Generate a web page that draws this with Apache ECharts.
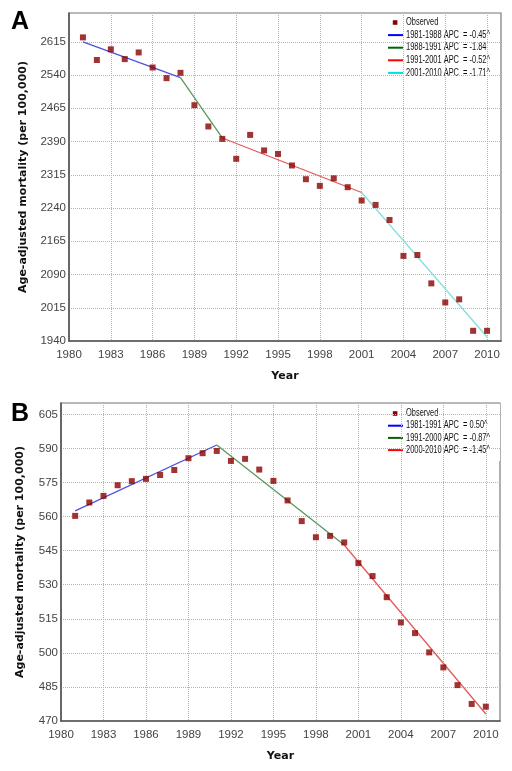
<!DOCTYPE html>
<html><head><meta charset="utf-8">
<script src="https://cdn.jsdelivr.net/npm/echarts@6/dist/echarts.min.js"></script>
<style>html,body{margin:0;padding:0;background:#fff}#c{width:512px;height:771px}</style>
</head><body><div id="c"></div>
<script>
// ---- data ----
const years = [1981,1982,1983,1984,1985,1986,1987,1988,1989,1990,1991,1992,1993,1994,1995,1996,1997,1998,1999,2000,2001,2002,2003,2004,2005,2006,2007,2008,2009,2010];
const observedA = [2625,2574,2598,2576,2591,2557,2533,2545,2472,2424,2396,2351,2405,2370,2362,2336,2305,2290,2307,2287,2257,2247,2213,2132,2134,2070,2027,2034,1963,1963];
const observedB = [560.3,566.2,569.1,573.8,575.6,576.6,578.3,580.5,585.7,587.9,588.9,584.5,585.4,580.7,575.7,567.1,558.0,550.9,551.5,548.6,539.5,533.8,524.5,513.4,508.7,500.2,493.6,485.8,477.5,476.3];
const segYearsA = [[1981,1988],[1988,1991],[1991,2001],[2001,2010]];
const segValsA  = [[2615,2534],[2534,2398],[2398,2275],[2275,1949]];
const segLabelsA = ['1981-1988 APC  = -0.45^','1988-1991 APC  = -1.84','1991-2001 APC  = -0.52^','2001-2010 APC  = -1.71^'];
const segYearsB = [[1981,1991],[1991,2000],[2000,2010]];
const segValsB  = [[562.5,591.5],[591.5,547.5],[547.5,473.1]];
const segLabelsB = ['1981-1991 APC  = 0.50^','1991-2000 APC  = -0.87^','2000-2010 APC  = -1.45^'];
const observedLabel = 'Observed';
const xTicks = {min:1980, max:2011, interval:3};
const yTicksA = {min:1940, max:2680, interval:75};
const yTicksB = {min:470, max:610, interval:15};

// ---- styles ----
const lineColorsA = ['#5050e0','#5a985a','#e25a5a','#86dede'];
const legendColorsA = ['#0000ff','#006400','#ff0000','#00e0e0'];
const lineColorsB = ['#5050e0','#5a985a','#e25a5a'];
const legendColorsB = ['#0000ff','#006400','#ff0000'];
const obsColor = '#8b0000';

const tickFont = {fontFamily:'"Liberation Sans", Arial, sans-serif', fontSize:11.5, color:'#444'};
const nameFont = {fontFamily:'"DejaVu Sans", Verdana, sans-serif', fontWeight:'bold', fontSize:11, color:'#111'};
const legendFontStr = '10px "Liberation Sans", Arial, sans-serif';
const splitStyle = {show:true, lineStyle:{color:'#b5b5b5', type:[1,1], width:1}};

// legend text in the reference is strongly condensed: squeeze it horizontally
const ctx = document.createElement('canvas').getContext('2d');
ctx.font = legendFontStr;
const legendScaleX = 84 / ctx.measureText(segLabelsA[0]).width;

function xAxis(gridIndex){
  return {type:'value', gridIndex, min:xTicks.min, max:xTicks.max, interval:xTicks.interval,
    name:'Year', nameLocation:'middle', nameGap:30, nameTextStyle:nameFont,
    axisLine:{show:true, onZero:false, lineStyle:{color:'#555', width:1.6}},
    axisTick:{show:false}, splitLine:splitStyle,
    axisLabel:Object.assign({margin:8, showMaxLabel:false, formatter:v=> (v===xTicks.max?'':String(v))}, tickFont)};
}
function yAxis(gridIndex, t, gap){
  return {type:'value', gridIndex, min:t.min, max:t.max, interval:t.interval,
    name:'Age-adjusted mortality (per 100,000)', nameLocation:'middle', nameGap:gap, nameTextStyle:nameFont,
    axisLine:{show:true, onZero:false, lineStyle:{color:'#555', width:1.6}},
    axisTick:{show:false}, splitLine:splitStyle,
    axisLabel:Object.assign({margin:3, showMaxLabel:false, formatter:v=> (v===t.max?'':String(v))}, tickFont)};
}
function segSeries(idx, yrs, vals, labels, colors){
  return yrs.map((yy,i)=>({type:'line', name:labels[i], xAxisIndex:idx, yAxisIndex:idx,
    data:[[yy[0],vals[i][0]],[yy[1],vals[i][1]]], symbol:'none', showSymbol:false,
    lineStyle:{color:colors[i], width:1.3}, itemStyle:{color:colors[i]}, z:2}));
}
// legend box drawn as a graphic group (white box, icons, condensed text)
function legendGroup(x, y, h, firstRow, rowGap, labels, lcolors){
  const children = [{type:'rect', shape:{x:0, y:0, width:117, height:h}, style:{fill:'#fff'}, silent:true}];
  const rows = [observedLabel].concat(labels);
  rows.forEach((lab, i)=>{
    const cy = firstRow + i*rowGap;
    if (i === 0) {
      children.push({type:'rect', shape:{x:9.8, y:cy-2.3, width:4.6, height:4.6}, style:{fill:obsColor}});
    } else {
      children.push({type:'rect', shape:{x:5, y:cy-1, width:15, height:2}, style:{fill:lcolors[i-1]}});
    }
    children.push({type:'text', x:23, y:cy, scaleX:legendScaleX,
      style:{text:lab, font:legendFontStr, fill:'#111', textAlign:'left', textVerticalAlign:'middle', verticalAlign:'middle'}});
  });
  return {type:'group', x, y, z:10, children};
}

const option = {
  animation:false,
  backgroundColor:'#fff',
  title:[
    {text:'A', left:11, top:10, padding:0, textStyle:{fontFamily:'"Liberation Sans", Arial, sans-serif', fontSize:25, fontWeight:'bold', color:'#000'}},
    {text:'B', left:11, top:402, padding:0, textStyle:{fontFamily:'"Liberation Sans", Arial, sans-serif', fontSize:25, fontWeight:'bold', color:'#000'}}
  ],
  grid:[
    {left:69, top:13, width:432, height:328, show:true, borderColor:'#777', borderWidth:1.2, backgroundColor:'transparent'},
    {left:61, top:403, width:439, height:318, show:true, borderColor:'#777', borderWidth:1.2, backgroundColor:'transparent'}
  ],
  graphic:[
    legendGroup(383, 14, 71, 8.5, 12.6, segLabelsA, legendColorsA),
    legendGroup(383, 404, 57, 9.5, 12.2, segLabelsB, legendColorsB)
  ],
  xAxis:[xAxis(0), xAxis(1)],
  yAxis:[yAxis(0, yTicksA, 40), yAxis(1, yTicksB, 35)],
  series:[
    {type:'scatter', name:observedLabel, xAxisIndex:0, yAxisIndex:0, symbol:'rect', symbolSize:6,
      itemStyle:{color:obsColor}, z:3, data:years.map((y,i)=>[y, observedA[i]])},
    ...segSeries(0, segYearsA, segValsA, segLabelsA, lineColorsA),
    {type:'scatter', name:observedLabel, xAxisIndex:1, yAxisIndex:1, symbol:'rect', symbolSize:6,
      itemStyle:{color:obsColor}, z:3, data:years.map((y,i)=>[y, observedB[i]])},
    ...segSeries(1, segYearsB, segValsB, segLabelsB, lineColorsB)
  ]
};
const chart = echarts.init(document.getElementById('c'), null, {renderer:'canvas'});
chart.setOption(option);
</script></body></html>
